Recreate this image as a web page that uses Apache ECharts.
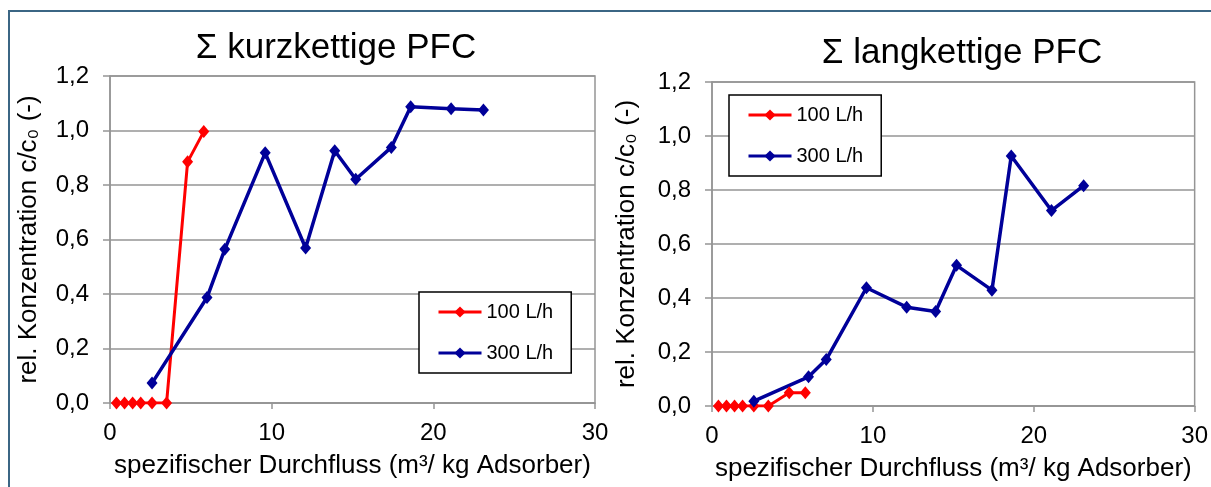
<!DOCTYPE html>
<html>
<head>
<meta charset="utf-8">
<script src="https://cdn.jsdelivr.net/npm/echarts@6/dist/echarts.min.js"></script>
<style>
  html, body { margin: 0; padding: 0; background: #fff; }
  #chart { width: 1211px; height: 487px; }
</style>
</head>
<body>
<div id="chart"></div>
<script>
// x-Werte (spezifischer Durchfluss, m³/kg Adsorber)
const x100 = [0.4, 0.9, 1.4, 1.9, 2.6, 3.5, 4.8, 5.8];
const x300 = [2.6, 6.0, 7.1, 9.6, 12.1, 13.9, 15.2, 17.4, 18.6, 21.1, 23.1];

// rel. Konzentration c/c0
const kurz100 = [0, 0, 0, 0, 0, 0, 0.885, 0.996];
const kurz300 = [0.073, 0.387, 0.564, 0.918, 0.569, 0.926, 0.821, 0.938, 1.087, 1.080, 1.075];
const lang100 = [0, 0, 0, 0, 0, 0, 0.049, 0.049];
const lang300 = [0.018, 0.108, 0.172, 0.438, 0.366, 0.350, 0.521, 0.429, 0.926, 0.724, 0.816];

const titles = ['Σ kurzkettige PFC', 'Σ langkettige PFC'];
const seriesNames = ['100 L/h', '300 L/h'];
const xTicks = [0, 10, 20, 30];
const yTicks = [0, 0.2, 0.4, 0.6, 0.8, 1.0, 1.2];

const FONT = 'Liberation Sans, Arial, sans-serif';
const GRID_GRAY = '#959595';

function pairs(xs, ys) {
  return xs.map((x, i) => [x, ys[i]]);
}

function makeX(gridIndex) {
  return {
    type: 'value',
    gridIndex: gridIndex,
    min: xTicks[0],
    max: xTicks[xTicks.length - 1],
    interval: 10,
    name: 'spezifischer Durchfluss (m³/ kg Adsorber)',
    nameLocation: 'middle',
    nameGap: 50,
    nameTextStyle: { color: '#000', fontSize: 26, fontFamily: FONT },
    axisLine: { show: true, lineStyle: { color: GRID_GRAY, width: 1.5 } },
    axisTick: { show: true, length: 6, lineStyle: { color: GRID_GRAY, width: 1.5 } },
    axisLabel: { color: '#000', fontSize: 24, fontFamily: FONT, margin: 18 },
    splitLine: { show: false }
  };
}

function makeY(gridIndex, gap) {
  return {
    type: 'value',
    gridIndex: gridIndex,
    min: yTicks[0],
    max: yTicks[yTicks.length - 1],
    interval: 0.2,
    name: 'rel. Konzentration c/c₀ (-)',
    nameLocation: 'middle',
    nameRotate: 90,
    nameGap: gap,
    nameTextStyle: { color: '#000', fontSize: 26, fontFamily: FONT },
    axisLine: { show: true, lineStyle: { color: GRID_GRAY, width: 1.5 } },
    axisTick: { show: true, length: 7, lineStyle: { color: GRID_GRAY, width: 1.5 } },
    axisLabel: {
      color: '#000', fontSize: 24, fontFamily: FONT, margin: 21,
      formatter: v => v.toFixed(1).replace('.', ',')
    },
    splitLine: { show: true, lineStyle: { color: GRID_GRAY, width: 1.5 } }
  };
}

function makeSeries(name, data, color, axisIndex, width) {
  return {
    name: name,
    type: 'line',
    xAxisIndex: axisIndex,
    yAxisIndex: axisIndex,
    data: data,
    symbol: 'diamond',
    symbolSize: [11, 13],
    color: color,
    lineStyle: { color: color, width: width },
    itemStyle: { color: color },
    animation: false
  };
}

function makeLegend(left, top) {
  return {
    left: left,
    top: top,
    orient: 'vertical',
    data: seriesNames,
    selectedMode: false,
    backgroundColor: '#fff',
    borderColor: '#000',
    borderWidth: 1.5,
    padding: [10, 18, 10, 18],
    itemWidth: 43,
    itemHeight: 14,
    itemGap: 21,
    lineStyle: { width: 3 },
    textStyle: { color: '#000', fontSize: 20, fontFamily: FONT, lineHeight: 20 }
  };
}

const chart = echarts.init(document.getElementById('chart'));
chart.setOption({
  backgroundColor: '#fff',
  animation: false,
  title: [
    { text: titles[0], left: 336, top: 31, textAlign: 'center', padding: 0,
      textStyle: { color: '#000', fontSize: 35, fontWeight: 'normal', fontFamily: FONT } },
    { text: titles[1], left: 962, top: 36, textAlign: 'center', padding: 0,
      textStyle: { color: '#000', fontSize: 35, fontWeight: 'normal', fontFamily: FONT } }
  ],
  grid: [
    { left: 110, top: 76, width: 485, height: 327, show: true, borderColor: GRID_GRAY, borderWidth: 1.5 },
    { left: 712, top: 82, width: 485, height: 326, show: true, borderColor: GRID_GRAY, borderWidth: 1.5 }
  ],
  xAxis: [makeX(0), makeX(1)],
  yAxis: [makeY(0, 68), makeY(1, 72)],
  legend: [makeLegend(419, 292), makeLegend(729, 95)],
  series: [
    makeSeries(seriesNames[0], pairs(x100, kurz100), '#ff0000', 0, 3),
    makeSeries(seriesNames[1], pairs(x300, kurz300), '#000099', 0, 3.5),
    makeSeries(seriesNames[0], pairs(x100, lang100), '#ff0000', 1, 3),
    makeSeries(seriesNames[1], pairs(x300, lang300), '#000099', 1, 3.5)
  ],
  graphic: [
    {
      type: 'polyline',
      shape: { points: [[9, 487], [9, 11], [1211, 11]] },
      style: { stroke: '#3b6684', lineWidth: 2, fill: null },
      silent: true
    }
  ]
});
</script>
</body>
</html>
